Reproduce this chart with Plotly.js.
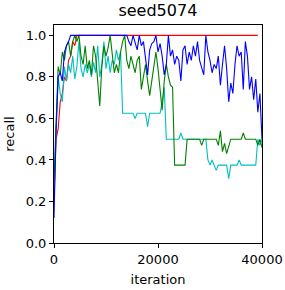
<!DOCTYPE html>
<html>
<head>
<meta charset="utf-8">
<script src="https://cdn.plot.ly/plotly-3.0.1.min.js"></script>
<style>html,body{margin:0;padding:0;background:#fff;}#chart{width:285px;height:290px;}</style>
</head>
<body>
<div id="chart"></div>
<script>
// sampled every 400 iterations, 0..40000
const step = 400;
const iterations = Array.from({length: 101}, (_, i) => i * step);

const recallRed = [0.2,0.5,0.55,0.68,0.72,0.8,0.78,0.88,0.9,0.97,0.95,1.0,
  1,1,1,1,1,1,1,1,1,1,1,1,1,1,1,1,1,1,1,1,1,1,1,1,1,1,1,1,1,1,1,1,1,1,1,1,1,1,
  1,1,1,1,1,1,1,1,1,1,1,1,1,1,1,1,1,1,1,1,1,1,1,1,1,1,1,1,1,1,1,1,1,1,1,1,1,1,1,1,1,1,1,1,1,1,1,1,1];

const recallBlue = [0.12,0.55,0.8,0.82,0.78,0.92,0.95,0.97,1.0,1.0,
  1,1,1,1,1,1,1,1,1,1,
  1,1,1,1,1,1,1,1,1,1,
  1,1,1,1,1,1,0.97,0.95,1.0,0.97,
  0.93,1.0,0.95,0.97,0.9,0.81,0.93,0.96,0.97,1.0,
  0.92,0.96,0.9,0.81,0.86,1.0,0.9,0.93,0.86,0.9,
  0.88,0.78,0.93,0.95,0.86,0.92,0.88,0.95,0.9,0.97,
  0.88,0.84,0.81,1.0,0.92,0.88,0.82,0.86,0.84,0.9,
  0.76,0.86,0.95,0.84,0.68,0.77,0.72,0.86,0.95,0.9,
  0.92,0.74,0.97,0.9,0.74,0.8,0.69,0.79,0.63,0.72,
  0.5];

const recallGreen = [0.3,0.6,0.85,0.81,0.92,0.88,0.95,0.97,0.9,0.97,
  1.0,0.97,1.0,0.9,0.86,0.95,0.84,0.88,0.81,0.95,
  0.9,0.78,0.66,0.85,0.95,0.9,0.94,1.0,0.9,0.82,
  0.86,0.82,0.92,0.97,1.0,0.88,0.84,0.9,0.86,0.82,
  0.88,0.9,0.74,0.8,0.86,0.78,0.71,0.78,0.86,0.92,
  0.84,0.72,0.64,0.78,0.86,0.8,0.76,0.75,0.375,0.375,
  0.375,0.375,0.375,0.375,0.5,0.5,0.5,0.5,0.5,0.5,
  0.5,0.47,0.5,0.5,0.5,0.5,0.5,0.5,0.5,0.47,
  0.54,0.44,0.48,0.43,0.47,0.5,0.5,0.5,0.5,0.5,
  0.5,0.53,0.5,0.5,0.5,0.5,0.5,0.5,0.47,0.5,
  0.46];

const recallCyan = [0.25,0.55,0.8,0.72,0.68,0.85,0.78,0.86,0.82,0.9,
  0.79,0.85,0.97,0.84,0.8,0.86,0.82,0.86,0.8,0.87,
  0.82,0.95,0.8,0.86,0.97,0.84,0.9,0.82,0.88,0.86,
  0.93,0.88,0.92,0.625,0.625,0.625,0.625,0.625,0.625,0.6,
  0.625,0.625,0.625,0.625,0.625,0.56,0.625,0.625,0.625,0.625,
  0.625,0.625,0.68,0.75,0.5,0.5,0.5,0.5,0.5,0.5,
  0.5,0.53,0.5,0.5,0.5,0.5,0.5,0.5,0.5,0.5,
  0.5,0.5,0.5,0.5,0.4,0.375,0.4,0.375,0.35,0.375,
  0.375,0.375,0.375,0.375,0.31,0.375,0.375,0.375,0.375,0.4,
  0.375,0.375,0.375,0.375,0.375,0.375,0.375,0.375,0.5,0.47,
  0.5];

const series = [
  {name: 'red', y: recallRed, color: '#ff0000'},
  {name: 'cyan', y: recallCyan, color: '#00bfbf'},
  {name: 'green', y: recallGreen, color: '#008000'},
  {name: 'blue', y: recallBlue, color: '#0000ff'}
];

const traces = series.map(s => ({
  x: iterations, y: s.y, type: 'scatter', mode: 'lines', name: s.name,
  line: {color: s.color, width: 1.1}, hoverinfo: 'skip'
}));

const font = {family: 'DejaVu Sans', size: 13, color: '#000'};
const axisCommon = {
  showgrid: false, zeroline: false, showline: true, mirror: true,
  linecolor: '#000', linewidth: 1, ticks: 'outside', ticklen: 4,
  tickcolor: '#000', tickwidth: 1, tickfont: font
};

const layout = {
  width: 285, height: 290,
  margin: {l: 54, r: 23, t: 25, b: 47},
  paper_bgcolor: '#fff', plot_bgcolor: '#fff',
  showlegend: false,
  font: font,
  title: {text: 'seed5074', font: {family: 'DejaVu Sans', size: 16, color: '#000'},
    x: 0.554, xanchor: 'center', y: 0.985, yanchor: 'top'},
  xaxis: Object.assign({}, axisCommon, {
    range: [0, 40000], tickvals: [0, 20000, 40000], ticktext: ['0', '20000', '40000'],
    title: {text: 'iteration', font: font, standoff: 9}
  }),
  yaxis: Object.assign({}, axisCommon, {
    range: [0, 1.05], tickvals: [0, 0.2, 0.4, 0.6, 0.8, 1.0],
    ticktext: ['0.0', '0.2', '0.4', '0.6', '0.8', '1.0'],
    title: {text: 'recall', font: font, standoff: 8}
  })
};

Plotly.newPlot('chart', traces, layout, {staticPlot: true, displayModeBar: false});
</script>
</body>
</html>
